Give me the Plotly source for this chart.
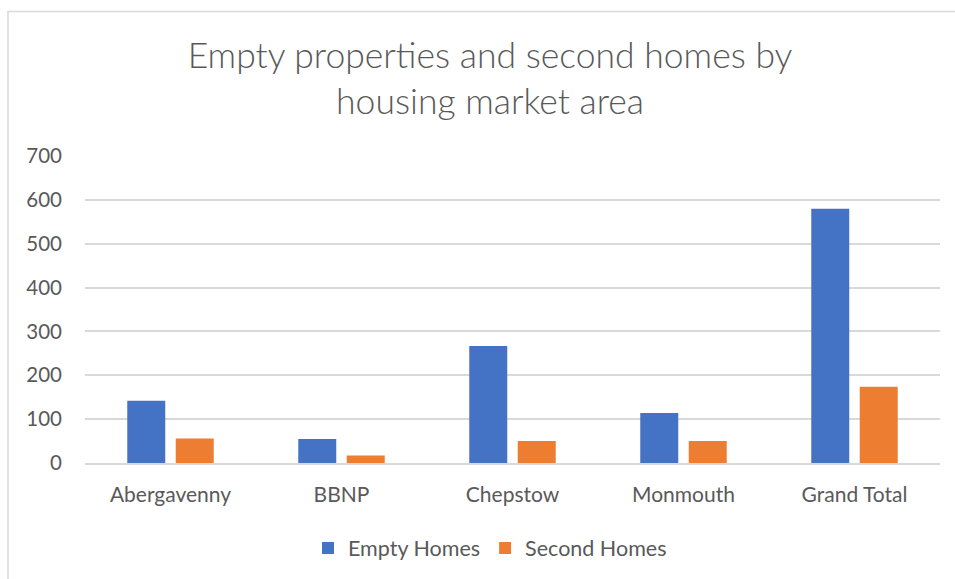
import plotly.graph_objects as go

categories = ["Abergavenny", "BBNP", "Chepstow", "Monmouth", "Grand Total"]
empty_homes = [142, 55, 267, 114, 580]
second_homes = [56, 17, 50, 50, 174]
y_ticks = [0, 100, 200, 300, 400, 500, 600, 700]

W, H = 955, 579
ML, MR, MT, MB = 85, 15, 156, 115

fig = go.Figure()
fig.add_trace(go.Bar(x=categories, y=empty_homes, name="Empty Homes",
                     marker=dict(color="#4472C4", line=dict(width=0))))
fig.add_trace(go.Bar(x=categories, y=second_homes, name="Second Homes",
                     marker=dict(color="#ED7D31", line=dict(width=0))))

font = "Lato, 'Open Sans', sans-serif"
fig.update_layout(
    width=W, height=H,
    margin=dict(l=ML, r=MR, t=MT, b=MB),
    paper_bgcolor="white", plot_bgcolor="white",
    barmode="group", bargap=0.433, bargroupgap=0.216,
    title=dict(text="Empty properties and second homes by<br>housing market area",
               x=490 / W, xanchor="center", xref="container",
               y=1 - 68 / H, yanchor="middle", yref="container",
               font=dict(family=font, size=35.5, color="#595959", weight=300)),
    font=dict(family=font, size=20, color="#595959"),
    legend=dict(orientation="h", x=(490 - ML) / (W - ML - MR), xanchor="center",
                y=-(548 - 464) / 308, yanchor="middle",
                font=dict(size=21.5, color="#595959"), itemwidth=30,
                traceorder="normal"),
    showlegend=True,
    shapes=[dict(type="rect", xref="paper", yref="paper",
                 x0=-(ML - 8) / (W - ML - MR), x1=(W + 20 - ML) / (W - ML - MR),
                 y0=-(MB + 20) / 308, y1=1 + (MT - 11) / 308,
                 line=dict(color="#d9d9d9", width=1.5), layer="below")],
)
fig.update_yaxes(range=[0, 700], tickvals=y_ticks, showgrid=True,
                 gridcolor="#d9d9d9", gridwidth=1.5, zeroline=False,
                 showline=False, ticklabelstandoff=22,
                 tickfont=dict(size=20.5, color="#595959"))
fig.update_xaxes(showline=True, linecolor="#d9d9d9", linewidth=1.5,
                 ticklabelstandoff=12, tickfont=dict(size=21, color="#595959"))

fig.write_html("out.html", config={"displayModeBar": False},
               post_script="document.body.style.margin='0px';document.body.style.overflow='hidden';")
